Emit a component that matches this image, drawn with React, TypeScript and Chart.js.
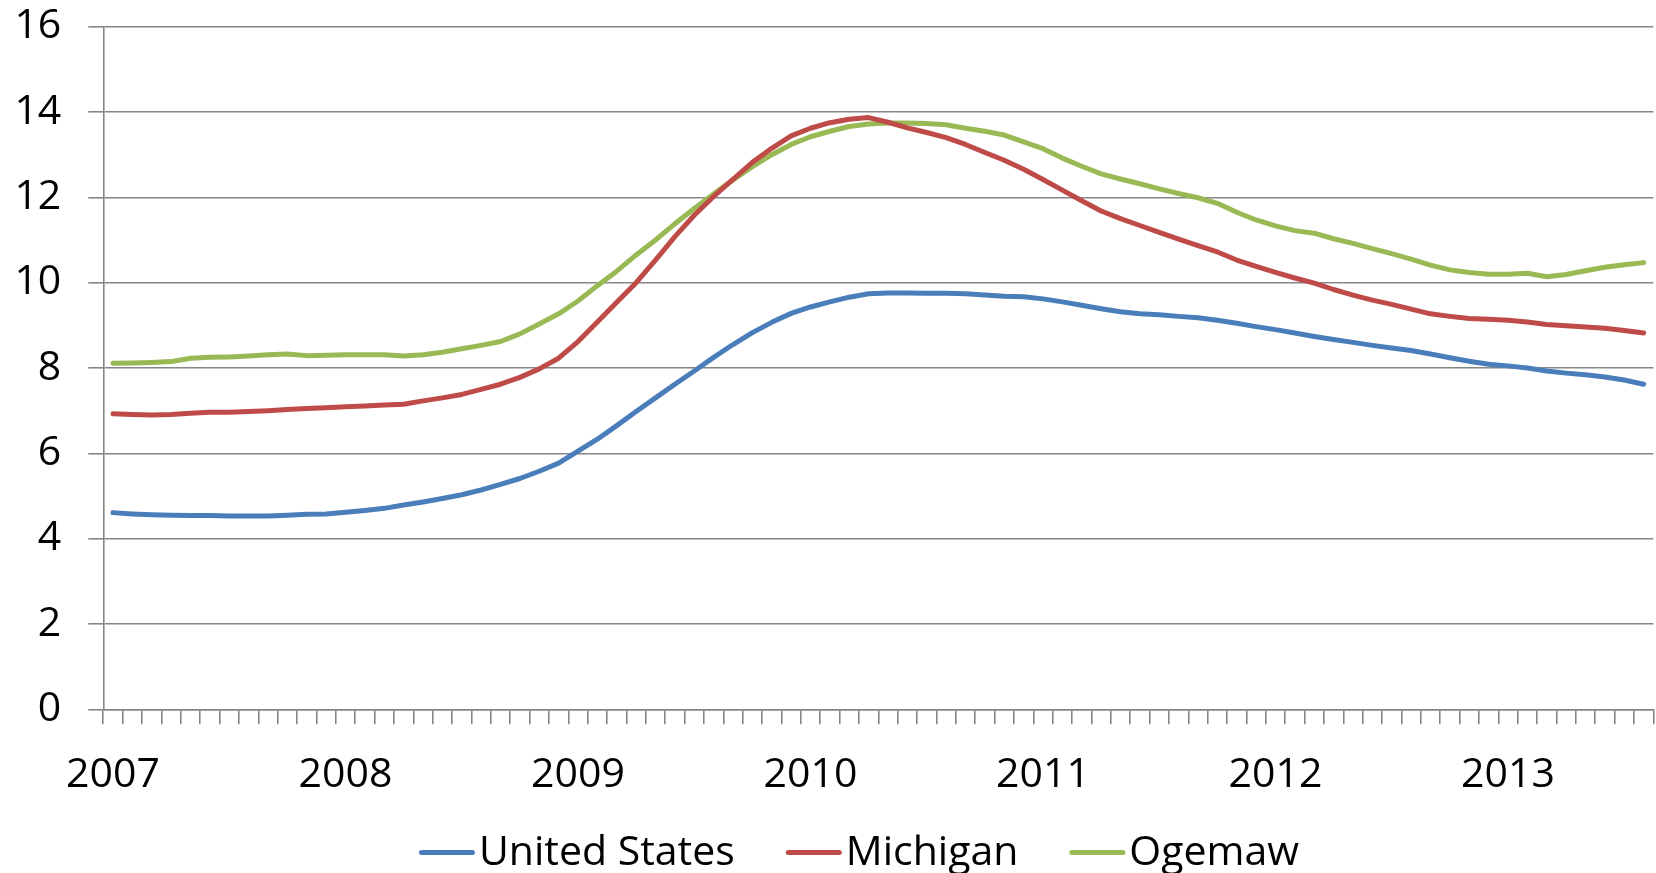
import React, { useEffect, useRef } from 'react';
import { Chart, registerables } from 'chart.js';

Chart.register(...registerables);

// ---------- data ----------
const YEAR_LABELS = ['2007', '2008', '2009', '2010', '2011', '2012', '2013'];
const MONTHS = ['01', '02', '03', '04', '05', '06', '07', '08', '09', '10', '11', '12'];
const MONTH_COUNT = 80; // Jan 2007 .. Aug 2013
const CATEGORIES = YEAR_LABELS.flatMap((y) => MONTHS.map((m) => `${y}-${m}`)).slice(0, MONTH_COUNT);

const SERIES_NAMES = ['United States', 'Michigan', 'Ogemaw'];

const UNITED_STATES = [
  4.61, 4.58, 4.56, 4.55, 4.54, 4.54, 4.53, 4.53, 4.53, 4.55, 4.57, 4.58,
  4.62, 4.66, 4.71, 4.79, 4.86, 4.94, 5.03, 5.14, 5.27, 5.41, 5.58, 5.77,
  6.05, 6.33, 6.65, 6.98, 7.3, 7.62, 7.93, 8.25, 8.55, 8.83, 9.07, 9.28,
  9.43, 9.55, 9.66, 9.74, 9.76, 9.76, 9.75, 9.75, 9.74, 9.71, 9.68, 9.67,
  9.62, 9.55, 9.47, 9.39, 9.32, 9.27, 9.25, 9.21, 9.18, 9.12, 9.05, 8.97,
  8.9, 8.82, 8.74, 8.67, 8.6, 8.53, 8.47, 8.41, 8.33, 8.24, 8.16, 8.09,
  8.05, 8.0, 7.93, 7.88, 7.84, 7.79, 7.72, 7.62,
];

const MICHIGAN = [
  6.93, 6.91, 6.9, 6.91, 6.94, 6.96, 6.96, 6.98, 7.0, 7.03, 7.05, 7.07,
  7.09, 7.11, 7.13, 7.15, 7.23, 7.3, 7.38, 7.5, 7.62, 7.78, 7.98, 8.23,
  8.62, 9.08, 9.54, 10.0, 10.53, 11.08, 11.58, 12.02, 12.42, 12.82, 13.15, 13.44,
  13.62, 13.75, 13.83, 13.87, 13.76, 13.63, 13.52, 13.4, 13.24, 13.05, 12.87, 12.66,
  12.42, 12.17, 11.92, 11.68, 11.5, 11.34, 11.18, 11.02, 10.87, 10.72, 10.53, 10.38,
  10.24, 10.11, 9.99, 9.84, 9.71, 9.59, 9.49, 9.38, 9.27, 9.21, 9.16, 9.14,
  9.12, 9.08, 9.02, 8.99, 8.96, 8.93, 8.88, 8.82,
];

const OGEMAW = [
  8.11, 8.12, 8.13, 8.15, 8.23, 8.25, 8.26, 8.28, 8.31, 8.33, 8.29, 8.3,
  8.31, 8.31, 8.31, 8.28, 8.31, 8.37, 8.45, 8.53, 8.62, 8.8, 9.03, 9.27,
  9.57, 9.93, 10.27, 10.65, 11.0, 11.38, 11.74, 12.08, 12.41, 12.72, 13.0, 13.24,
  13.42, 13.55, 13.66, 13.72, 13.74, 13.74, 13.73, 13.7, 13.62, 13.55, 13.46, 13.3,
  13.14, 12.92, 12.73, 12.55, 12.43, 12.32, 12.2, 12.09, 11.99, 11.86, 11.65, 11.47,
  11.33, 11.22, 11.16, 11.03, 10.92, 10.8, 10.68, 10.55, 10.41, 10.3, 10.24, 10.2,
  10.2, 10.22, 10.14, 10.19, 10.28, 10.36, 10.42, 10.47,
];

const Y_MIN = 0;
const Y_MAX = 16;
const Y_STEP = 2;

// ---------- styling ----------
const COLORS = ['#4A7EBB', '#BE4B48', '#98B954'];
const GRID = '#868686';
const FONT_FAMILY = '"Open Sans", "Liberation Sans", sans-serif';
const FONT_SIZE = 41;
const LINE_WIDTH = 5;
const W = 1656;
const H = 873;

const legendPlugin = {
  id: 'excelLegend',
  afterDraw(chart: any) {
    const ctx = chart.ctx as CanvasRenderingContext2D;
    ctx.save();
    ctx.font = `${FONT_SIZE}px ${FONT_FAMILY}`;
    ctx.textBaseline = 'alphabetic';
    ctx.textAlign = 'left';
    const lineLen = 56;
    const textGap = 62;
    const itemGap = 49;
    const items = chart.data.datasets.map((ds: any) => ({
      text: ds.label as string,
      color: ds.borderColor as string,
      w: ctx.measureText(ds.label).width,
    }));
    const total =
      items.reduce((s: number, it: any) => s + textGap + it.w, 0) + itemGap * (items.length - 1);
    const centerX = 860;
    let x = centerX - total / 2;
    const lineY = 852.5;
    const baseY = 864.5;
    items.forEach((it: any) => {
      ctx.strokeStyle = it.color;
      ctx.lineWidth = LINE_WIDTH;
      ctx.lineCap = 'round';
      ctx.beginPath();
      ctx.moveTo(x + 2.5, lineY);
      ctx.lineTo(x + lineLen - 2.5, lineY);
      ctx.stroke();
      ctx.fillStyle = '#000';
      ctx.fillText(it.text, x + textGap - 2, baseY);
      x += textGap + it.w + itemGap;
    });
    ctx.restore();
  },
};

export default function App() {
  const canvasRef = useRef<HTMLCanvasElement | null>(null);

  useEffect(() => {
    if (!canvasRef.current) return;
    const series = [UNITED_STATES, MICHIGAN, OGEMAW];
    const chart = new Chart(canvasRef.current, {
      type: 'line',
      data: {
        labels: CATEGORIES,
        datasets: series.map((values, i) => ({
          label: SERIES_NAMES[i],
          data: values,
          borderColor: COLORS[i],
          backgroundColor: COLORS[i],
          borderWidth: LINE_WIDTH,
          pointRadius: 0,
          pointHoverRadius: 0,
          tension: 0,
          fill: false,
          borderCapStyle: 'round',
          borderJoinStyle: 'round',
        })),
      },
      options: {
        responsive: false,
        animation: false,
        devicePixelRatio: 1,
        events: [],
        layout: { padding: { top: 26.7, right: 2.7, left: 0, bottom: 0 } },
        plugins: {
          legend: { display: false },
          tooltip: { enabled: false },
          title: { display: false },
        },
        scales: {
          x: {
            type: 'category',
            offset: true,
            grid: {
              display: true,
              drawOnChartArea: false,
              drawTicks: true,
              tickLength: 15,
              offset: true,
              color: GRID,
              lineWidth: 1.6,
            },
            border: { display: true, color: GRID, width: 1.6 },
            ticks: {
              autoSkip: false,
              maxRotation: 0,
              minRotation: 0,
              padding: 26,
              color: '#000',
              font: { family: FONT_FAMILY, size: FONT_SIZE },
              callback: (_v: any, i: number) => (i % 12 === 0 ? YEAR_LABELS[i / 12] : ''),
            },
            afterFit: (s: any) => {
              s.height = H - 709.3;
              s.paddingLeft = 0;
              s.paddingRight = 0;
            },
          },
          y: {
            min: Y_MIN,
            max: Y_MAX,
            ticks: {
              stepSize: Y_STEP,
              padding: 27,
              color: '#000',
              font: { family: FONT_FAMILY, size: FONT_SIZE },
            },
            grid: {
              color: GRID,
              lineWidth: 1.6,
              tickLength: 15,
              drawTicks: true,
            },
            border: { display: true, color: GRID, width: 1.6 },
            afterFit: (s: any) => {
              s.width = 103.3;
              s.paddingTop = 0;
              s.paddingBottom = 0;
            },
          },
        },
      },
      plugins: [legendPlugin],
    } as any);
    return () => chart.destroy();
  }, []);

  return (
    <div
      style={{
        position: 'fixed',
        left: 0,
        top: 0,
        width: W,
        height: H,
        overflow: 'hidden',
        background: '#fff',
      }}
    >
      <canvas ref={canvasRef} width={W} height={H} style={{ width: W, height: H, display: 'block' }} />
    </div>
  );
}
